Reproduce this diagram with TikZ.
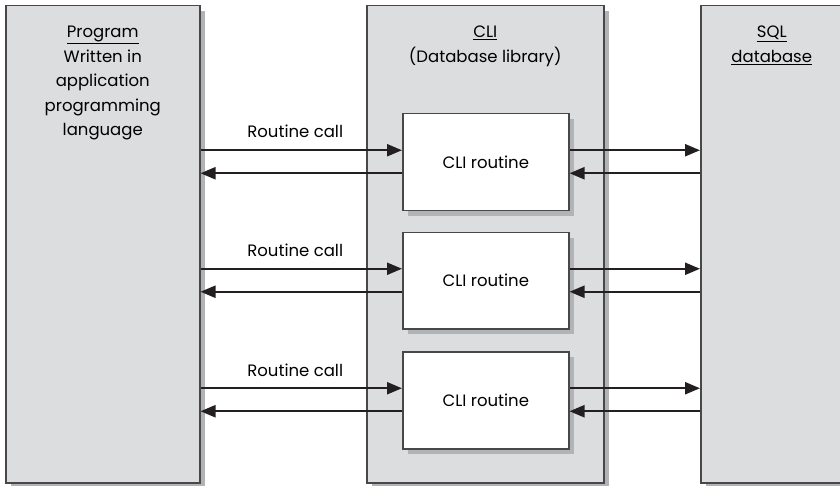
\documentclass[tikz,border=0pt]{standalone}
\usepackage{fontspec}
\setmainfont{Poppins}
\usepackage{tikz}
\usetikzlibrary{
	arrows.meta,	% arrow tips
	positioning,	% relative placement
	shadows,		% drop shadows
}
\definecolor{panelgray}{HTML}{DCDDDF}
\definecolor{edgegray}{HTML}{48484A}
\definecolor{shadegray}{HTML}{B2B3B5}
\definecolor{arrowblack}{HTML}{231F20}

\begin{document}
\begin{tikzpicture}[x=1pt, y=-1pt,
		panel/.style={draw=edgegray, line width=1.5pt, fill=panelgray, anchor=north west, inner sep=0pt,
			drop shadow={shadow xshift=5pt, shadow yshift=-5pt, fill=shadegray, opacity=1}},
		routine/.style={panel, fill=white, minimum width=166pt, font=\fontsize{16.5}{20}\selectfont},
		call/.style={-{Triangle[length=15pt, width=12pt]}, line width=2.2pt, draw=arrowblack},
		title/.style={align=center, anchor=north, inner sep=0pt, font=\fontsize{16.5}{24.5}\selectfont},
		label/.style={above=11pt, pos=0.47, inner sep=0pt, font=\fontsize{16.5}{20}\selectfont},
	]
		\useasboundingbox (0,0) rectangle (840,486);
		\clip (0,0) rectangle (840,486);

		% the three columns
		\node[panel, minimum width=194pt, minimum height=477pt] (prog) at (5,5) {};
		\node[panel, minimum width=237pt, minimum height=477pt] (cli) at (366,5) {};
		\node[panel, minimum width=160pt, minimum height=477pt] (sql) at (700,5) {};

		\node[title, below=21pt of prog.north] (progtitle)
			{\underline{Program}\\Written in\\application\\programming\\language};
		\node[title, below=21pt of cli.north] (clititle) {\underline{CLI}\\(Database library)};
		\node[title, below=21pt of sql.north, xshift=-9pt] (sqltitle) {\underline{SQL}\\\underline{database}};

		% CLI routines
		\node[routine, minimum height=97pt] (rone) at (402,113) {CLI routine};
		\node[routine, minimum height=96pt] (rtwo) at (402,232) {CLI routine};
		\node[routine, minimum height=97pt] (rthree) at (402,351) {CLI routine};

		% calls and returns
		\draw[call] ([yshift=12pt]rone.west -| prog.east) -- node[label] {Routine call} ([yshift=12pt]rone.west);
		\draw[call] ([yshift=-11pt]rone.west) -- ([yshift=-11pt]rone.west -| prog.east);
		\draw[call] ([yshift=12pt]rone.east) -- ([yshift=12pt]rone.east -| sql.west);
		\draw[call] ([yshift=-11pt]rone.east -| sql.west) -- ([yshift=-11pt]rone.east);

		\draw[call] ([yshift=12pt]rtwo.west -| prog.east) -- node[label] {Routine call} ([yshift=12pt]rtwo.west);
		\draw[call] ([yshift=-11pt]rtwo.west) -- ([yshift=-11pt]rtwo.west -| prog.east);
		\draw[call] ([yshift=12pt]rtwo.east) -- ([yshift=12pt]rtwo.east -| sql.west);
		\draw[call] ([yshift=-11pt]rtwo.east -| sql.west) -- ([yshift=-11pt]rtwo.east);

		\draw[call] ([yshift=12pt]rthree.west -| prog.east) -- node[label] {Routine call} ([yshift=12pt]rthree.west);
		\draw[call] ([yshift=-11pt]rthree.west) -- ([yshift=-11pt]rthree.west -| prog.east);
		\draw[call] ([yshift=12pt]rthree.east) -- ([yshift=12pt]rthree.east -| sql.west);
		\draw[call] ([yshift=-11pt]rthree.east -| sql.west) -- ([yshift=-11pt]rthree.east);
	\end{tikzpicture}
\end{document}
